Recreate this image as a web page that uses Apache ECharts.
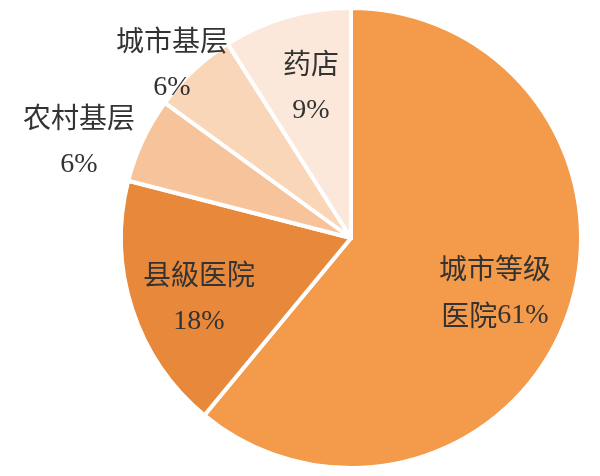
<!DOCTYPE html>
<html>
<head>
<meta charset="utf-8">
<script src="https://cdn.jsdelivr.net/npm/echarts@6/dist/echarts.min.js"></script>
<style>html,body{margin:0;padding:0;background:#fff}#c{width:600px;height:476px}</style>
</head>
<body>
<div id="c"></div>
<script>
const categories = ['城市等级医院', '县級医院', '农村基层', '城市基层', '药店'];
const values = [61, 18, 6, 6, 9];
const colors = ['#F39A4B', '#E8883A', '#F7C39A', '#FAD6B8', '#FCE8DA'];
const labelPos = [[495, 292], [199, 298], [79, 141], [172, 64], [311, 87]];

const chart = echarts.init(document.getElementById('c'));
chart.setOption({
  animation: false,
  series: [{
    type: 'pie',
    center: [351, 238],
    radius: [0, 230],
    startAngle: 90,
    clockwise: true,
    data: categories.map((n, i) => ({ name: n, value: values[i], itemStyle: { color: colors[i] } })),
    itemStyle: { borderColor: '#fff', borderWidth: 4 },
    label: {
      show: true,
      position: 'inside',
      align: 'center',
      formatter: p => {
        const n = p.name;
        if (n.length > 4) return '{t|' + n.slice(0, 4) + '}\n{t|' + n.slice(4) + '}{p|' + p.value + '%}';
        return '{t|' + n + '}\n{p|' + p.value + '%}';
      },
      rich: {
        t: { fontFamily: 'Noto Sans CJK SC', fontSize: 28, color: '#333', lineHeight: 47 },
        p: { fontFamily: 'Liberation Serif', fontSize: 28, color: '#333', lineHeight: 47 }
      }
    },
    labelLine: { show: false },
    labelLayout: params => ({
      x: labelPos[params.dataIndex][0],
      y: labelPos[params.dataIndex][1],
      align: 'center',
      verticalAlign: 'middle'
    })
  }]
});
</script>
</body>
</html>
